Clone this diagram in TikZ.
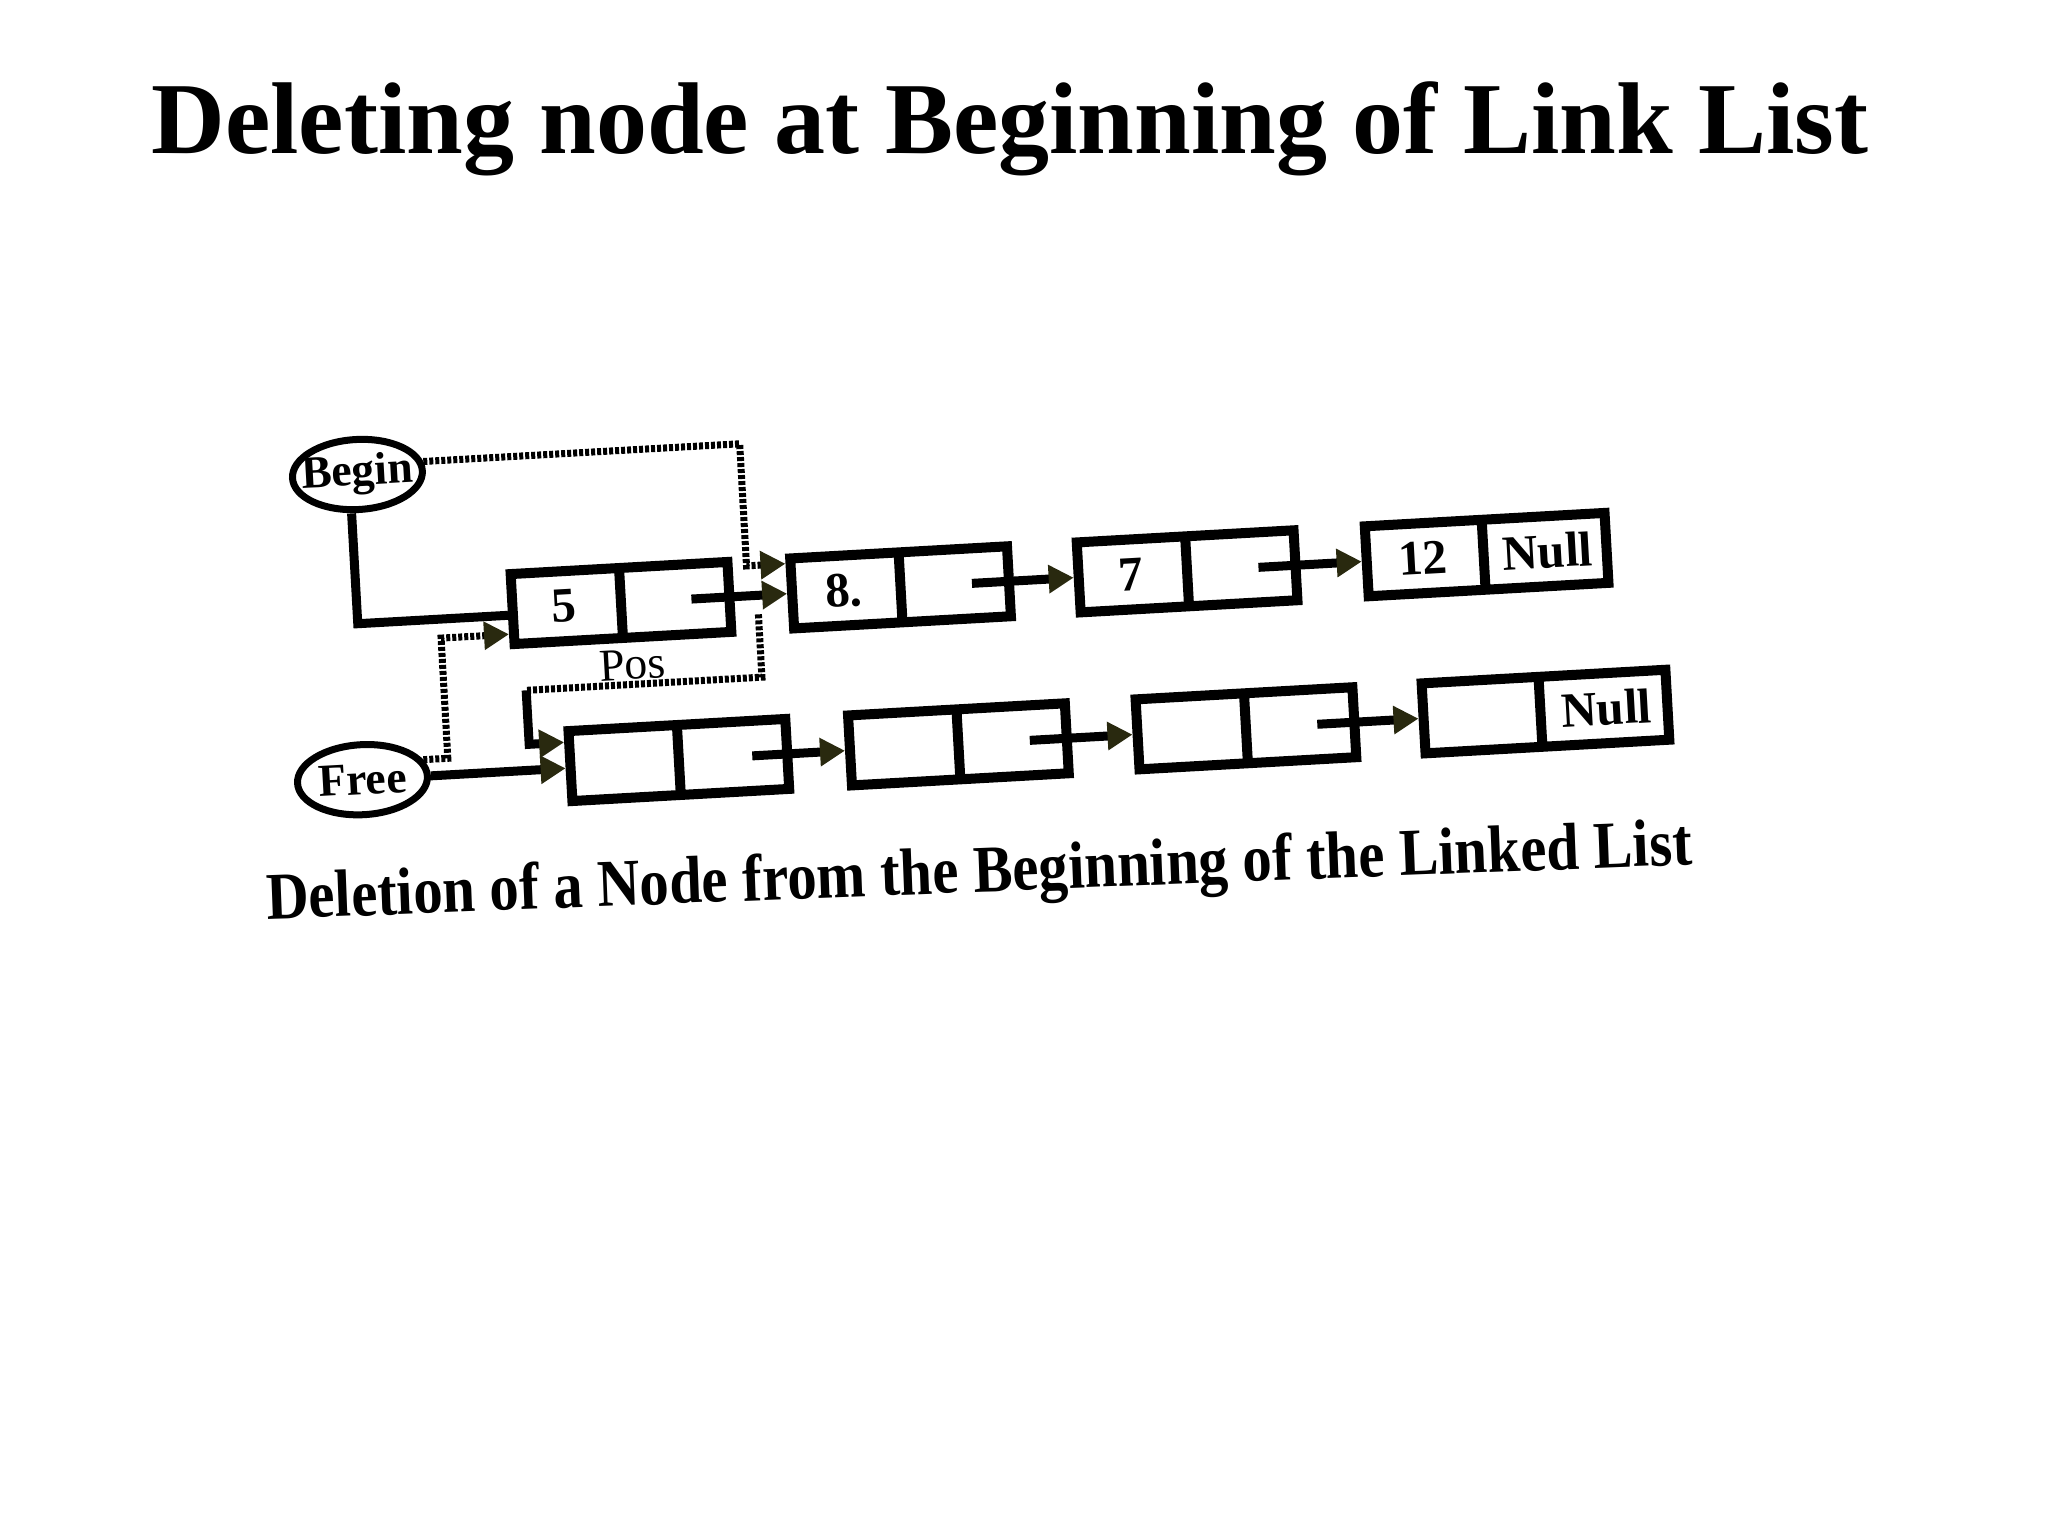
\documentclass[tikz,border=0pt]{standalone}
\usepackage{fontspec}
\setmainfont{Liberation Serif}
\newfontfamily\capfont[FakeStretch=0.88]{Liberation Serif}
\usepackage{xcolor}
\usetikzlibrary{arrows.meta,shapes.multipart,shapes.geometric}
\definecolor{tipcol}{rgb}{0.16,0.16,0.06}
\newcommand{\half}[2][1.035cm]{\makebox[#1]{#2}}

\begin{document}
\begin{tikzpicture}[x=0.01cm, y=0.01cm,
	cell/.style={draw, line width=0.1cm, rectangle split, rectangle split horizontal,
		rectangle split parts=2, inner sep=0pt, minimum height=0.7cm,
		font=\fontsize{14}{16}\selectfont\bfseries},
	oval/.style={draw, ellipse, line width=0.07cm, minimum width=1.3cm, minimum height=0.7cm, inner sep=0pt},
	ovaltext/.style={font=\fontsize{13}{15}\selectfont\bfseries},
	link/.style={line width=0.09cm},
	ptr/.style={line width=0.09cm, -{Triangle[length=0.25cm,width=0.27cm,color=tipcol]}},
	dotlink/.style={line width=0.07cm, dash pattern=on 0.04cm off 0.02cm},
	dotptr/.style={ptr, dotlink}]
	\useasboundingbox (0,0) rectangle (2048,1536);
	
	% Title
	\node[font=\fontsize{29}{34}\selectfont\bfseries, anchor=base] (title) at (1010,1382) {Deleting node at Beginning of Link List};
	
	\begin{scope}[shift={(621,933)}, rotate=3.2, transform shape]
		% List nodes
		\node[cell] (n5) at (0,0) {\half{5}\nodepart{two}\half{}};
		\node[cell] (n8) at (280,0) {\half{8.}\nodepart{two}\half{}};
		\node[cell] (n7) at (567,0) {\half{7}\nodepart{two}\half{}};
		\node[cell] (n12) at (867,0) {\half[1.12cm]{12}\nodepart{two}\half[1.18cm]{Null}};
		
		% Free list nodes
		\node[cell] (f1) at (49,-160) {\half{}\nodepart{two}\half{}};
		\node[cell] (f2) at (329,-160) {\half{}\nodepart{two}\half{}};
		\node[cell] (f3) at (617,-160) {\half{}\nodepart{two}\half{}};
		\node[cell] (f4) at (917,-160) {\half[1.12cm]{}\nodepart{two}\half[1.22cm]{Null}};
		
		% Begin and Free
		\node[oval, label={[ovaltext]center:Begin}] (begin) at (-256,143) {};
		\node[oval, label={[ovaltext]center:Free}] (free) at (-268,-162) {};
		
		% Begin to first node
		\draw[link] ([xshift=-0.08cm]begin.south) |- ([yshift=-0.06cm]n5.west);
		% Begin moves on to second node
		\draw[dotptr] (begin.8) -| ([xshift=-0.39cm,yshift=0.3cm]n8.west) -- ([yshift=0.3cm]n8.west);
		
		% Links of the list
		\draw[ptr] ([xshift=-0.43cm]n5.east) -- (n8.west);
		\draw[ptr] ([xshift=-0.42cm]n8.east) -- (n7.west);
		\draw[ptr] ([xshift=-0.42cm]n7.east) -- (n12.west);
		
		% Links of the free list
		\draw[ptr] (free.east) -- (free.east -| f1.west);
		\draw[ptr] ([xshift=-0.4cm]f1.east) -- (f2.west);
		\draw[ptr] ([xshift=-0.42cm]f2.east) -- (f3.west);
		\draw[ptr] ([xshift=-0.42cm]f3.east) -- (f4.west);
		
		% Free points to the deleted node
		\draw[dotptr] (free.15) -| ([xshift=-0.68cm,yshift=-0.25cm]n5.west) -- ([yshift=-0.25cm]n5.west);
		
		% Deleted node (Pos) goes to the free list
		\node[font=\fontsize{13}{15}\selectfont, anchor=base] (pos) at (8,-77) {Pos};
		\coordinate (bend) at ([xshift=-0.35cm,yshift=0.78cm]f1.west);
		\draw[dotlink] ([xshift=0.23cm,yshift=-0.19cm]n5.east) |- (bend);
		\draw[ptr] (bend) |- ([yshift=0.24cm]f1.west);
	\end{scope}
	
	% Caption
	\node[font=\capfont\fontsize{19}{22}\selectfont\bfseries, anchor=base, rotate=2.2] (caption) at (980,644) {Deletion of a Node from the Beginning of the Linked List};
\end{tikzpicture}
\end{document}
